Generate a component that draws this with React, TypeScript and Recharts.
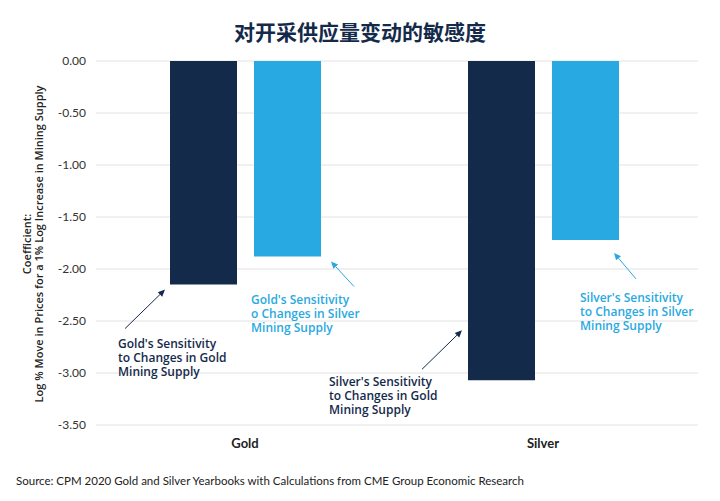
import { BarChart, Bar, XAxis, YAxis, CartesianGrid, LabelList } from 'recharts'

const categories = ['Gold', 'Silver']
const goldSupplySensitivity = [-2.15, -3.07]
const silverSupplySensitivity = [-1.88, -1.72]
const yTicks = [0, -0.5, -1, -1.5, -2, -2.5, -3, -3.5]

const goldSupplyNotes = [
  ["Gold's Sensitivity", 'to Changes in Gold', 'Mining Supply'],
  ["Silver's Sensitivity", 'to Changes in Gold', 'Mining Supply'],
]
const silverSupplyNotes = [
  ["Gold's Sensitivity", 'o Changes in Silver', 'Mining Supply'],
  ["Silver's Sensitivity", 'to Changes in Silver', 'Mining Supply'],
]

const NAVY = '#142a4b'
const BLUE = '#29a9e1'
const FONT = 'Lato, "Noto Sans", sans-serif'
const NOTE_FONT = '"Open Sans", "Noto Sans", sans-serif'

const data = categories.map((name, i) => ({
  name,
  gold: goldSupplySensitivity[i],
  silver: silverSupplySensitivity[i],
}))

// annotation placement, relative to the bottom-left corner of each bar
const goldNoteLayout = [
  { tip: [-5, 5], tail: [-45, 44], text: [-52, 63] },
  { tip: [-6, -50], tail: [-46, -11], text: [-139, 6] },
]
const silverNoteLayout = [
  { tip: [77, 5], tail: [100, 30], text: [-3, 47] },
  { tip: [62, 13], tail: [84, 39], text: [28, 62] },
]

function makeNote(notes: string[][], layout: typeof goldNoteLayout, color: string) {
  return (props: any) => {
    const { x, y, height, index } = props
    const lay = layout[index]
    if (!lay) return null
    const x0 = Number(x)
    const yb = Math.max(Number(y), Number(y) + Number(height))
    const tx = x0 + lay.tip[0]
    const ty = yb + lay.tip[1]
    const sx = x0 + lay.tail[0]
    const sy = yb + lay.tail[1]
    const ang = Math.atan2(ty - sy, tx - sx)
    const len = 7
    const w = 3.2
    const bx = tx - len * Math.cos(ang)
    const by = ty - len * Math.sin(ang)
    const p1 = `${tx},${ty}`
    const p2 = `${bx + w * Math.sin(ang)},${by - w * Math.cos(ang)}`
    const p3 = `${bx - w * Math.sin(ang)},${by + w * Math.cos(ang)}`
    return (
      <g>
        <line x1={sx} y1={sy} x2={bx} y2={by} stroke={color} strokeWidth={1} />
        <polygon points={`${p1} ${p2} ${p3}`} fill={color} />
        <text
          x={x0 + lay.text[0]}
          y={yb + lay.text[1]}
          fill={color}
          fontSize={12}
          fontWeight={600}
          fontFamily={NOTE_FONT}
        >
          {notes[index].map((line, k) => (
            <tspan key={k} x={x0 + lay.text[0]} dy={k === 0 ? 0 : 14}>
              {line}
            </tspan>
          ))}
        </text>
      </g>
    )
  }
}

const YLabel = () => (
  <text transform="rotate(-90)" textAnchor="middle" fill="#222" fontSize={11} fontWeight={600} fontFamily={NOTE_FONT}>
    <tspan x={-244} y={31}>Coefficient:</tspan>
    <tspan x={-244} y={43}>Log % Move in Prices for a 1% Log Increase in Mining Supply</tspan>
  </text>
)

export default function App() {
  return (
    <div style={{ position: 'absolute', left: 0, top: 0, width: 720, height: 501, background: '#fff' }}>
      <div
        style={{
          position: 'absolute',
          top: 21,
          left: 0,
          width: 720,
          textAlign: 'center',
          fontFamily: '"Noto Sans CJK SC", sans-serif',
          fontWeight: 700,
          fontSize: 21,
          lineHeight: '21px',
          color: NAVY,
        }}
      >
        对开采供应量变动的敏感度
      </div>
      <BarChart
        width={720}
        height={501}
        data={data}
        margin={{ top: 61, right: 22, left: 0, bottom: 46 }}
        barSize={67}
        barGap={17}
      >
        <CartesianGrid vertical={false} stroke="#e2e2e2" />
        <XAxis
          dataKey="name"
          axisLine={false}
          tickLine={false}
          tickMargin={8}
          padding={{ left: 0, right: 6 }}
          tick={{ fill: '#222', fontSize: 13, fontWeight: 700, fontFamily: FONT }}
        />
        <YAxis
          width={96}
          domain={[-3.5, 0]}
          ticks={yTicks}
          axisLine={false}
          tickLine={false}
          tickMargin={4}
          tickFormatter={(v: number) => v.toFixed(2)}
          tick={{ fill: '#333', fontSize: 12, fontFamily: FONT }}
          label={{ content: <YLabel /> }}
        />
        <Bar dataKey="gold" fill={NAVY} isAnimationActive={false}>
          <LabelList dataKey="gold" content={makeNote(goldSupplyNotes, goldNoteLayout, NAVY)} />
        </Bar>
        <Bar dataKey="silver" fill={BLUE} isAnimationActive={false}>
          <LabelList dataKey="silver" content={makeNote(silverSupplyNotes, silverNoteLayout, BLUE)} />
        </Bar>
      </BarChart>
      <div
        style={{
          position: 'absolute',
          top: 474,
          left: 16,
          fontFamily: FONT,
          fontSize: 11.5,
          lineHeight: '14px',
          color: '#222',
        }}
      >
        Source: CPM 2020 Gold and Silver Yearbooks with Calculations from CME Group Economic Research
      </div>
    </div>
  )
}
